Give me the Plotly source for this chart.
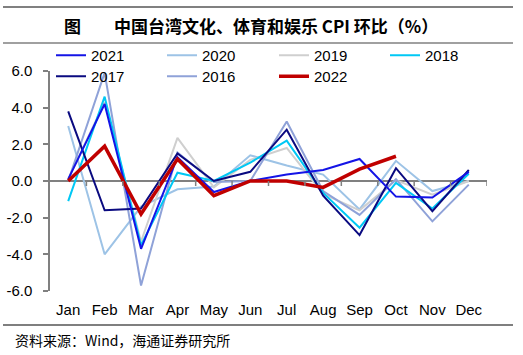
import plotly.graph_objects as go

months = ["Jan", "Feb", "Mar", "Apr", "May", "Jun", "Jul", "Aug", "Sep", "Oct", "Nov", "Dec"]

y2021 = [0.1, 4.2, -3.7, 1.3, -0.6, 0.0, 0.35, 0.6, 1.2, -0.85, -0.9, 0.5]
y2020 = [3.0, -4.0, -1.4, -0.45, -0.3, 1.4, 0.85, 0.35, -1.55, 1.1, -0.55, 0.0]
y2019 = [0.1, 4.3, -3.3, 2.35, -0.35, 1.15, 1.8, -0.7, -1.6, 0.05, -0.75, 0.0]
y2018 = [-1.1, 4.6, -3.5, 0.45, 0.0, 1.0, 2.2, -0.65, -2.55, -0.1, -1.5, 0.4]
y2017 = [3.8, -1.6, -1.5, 1.5, 0.0, 0.5, 2.8, -0.8, -2.95, 0.7, -1.65, 0.6]
y2016 = [0.0, 5.9, -5.7, 1.55, -0.05, 0.0, 3.25, -0.55, -1.85, 0.1, -2.2, -0.2]
y2022 = [0.0, 1.9, -1.8, 1.2, -0.8, 0.0, 0.0, -0.35, 0.65, 1.35]

yticks = [-6, -4, -2, 0, 2, 4, 6]

W, H = 523, 355
L, R, T, B = 50, 36, 71, 64
pw, ph = W - L - R, H - T - B


def px2x(p):
    return (p - L) / pw


def px2y(p):
    return (H - B - p) / ph


# name, values, colour, width, legend id, legend position (x px, top px)
series = [
    ("2020", y2020, "#9DC3E6", 2, "legend2", (162, 39)),
    ("2019", y2019, "#CFCFCF", 2, "legend3", (274, 39)),
    ("2016", y2016, "#8FA2D8", 2, "legend6", (162, 60)),
    ("2018", y2018, "#00C8F5", 2, "legend4", (385, 39)),
    ("2017", y2017, "#0A0A80", 2, "legend5", (51, 60)),
    ("2021", y2021, "#1414E6", 2, "legend", (51, 39)),
    ("2022", y2022, "#C00000", 3.5, "legend7", (274, 60)),
]

fig = go.Figure()
legends = {}
for name, vals, col, w, lg, (lx, ly) in series:
    fig.add_trace(go.Scatter(
        x=months[:len(vals)], y=vals, name=name, mode="lines",
        line=dict(color=col, width=w), legend=lg,
    ))
    legends[lg] = dict(orientation="v", bgcolor="rgba(0,0,0,0)", borderwidth=0,
                       font=dict(family="Liberation Sans, Arial", size=15, color="#000"),
                       xref="container", yref="container",
                       x=lx / W, y=1 - ly / H, xanchor="left", yanchor="top",
                       itemwidth=30)

shapes = []
for k in range(1, 13):
    shapes.append(dict(type="line", xref="x", yref="y", x0=k - 0.5, x1=k - 0.5,
                       ysizemode="pixel", yanchor=0, y0=0, y1=-5,
                       line=dict(color="#808080", width=1.5)))
shapes.append(dict(type="line", xref="paper", yref="paper", x0=px2x(3), x1=px2x(513),
                   y0=px2y(7), y1=px2y(7), line=dict(color="#808080", width=2)))
shapes.append(dict(type="line", xref="paper", yref="paper", x0=px2x(3), x1=px2x(513),
                   y0=px2y(43), y1=px2y(43), line=dict(color="#808080", width=1.5)))
shapes.append(dict(type="line", xref="paper", yref="paper", x0=px2x(3), x1=px2x(513),
                   y0=px2y(325), y1=px2y(325), line=dict(color="#000000", width=1.2)))

cjk = "Noto Sans CJK SC"
annotations = [
    dict(text="<b>图</b>", x=px2x(72), y=px2y(26), xref="paper", yref="paper",
         showarrow=False, xanchor="center", yanchor="middle",
         font=dict(family=cjk, size=17, color="#000")),
    dict(text="<b>中国台湾文化、体育和娱乐 CPI 环比（%）</b>", x=px2x(276), y=px2y(26),
         xref="paper", yref="paper", showarrow=False, xanchor="center", yanchor="middle",
         font=dict(family=cjk, size=17, color="#000")),
    dict(text="资料来源：Wind，海通证券研究所", x=px2x(13), y=px2y(340),
         xref="paper", yref="paper", showarrow=False, xanchor="left", yanchor="middle",
         font=dict(family=cjk, size=14, color="#000")),
]

fig.update_layout(
    width=W, height=H,
    margin=dict(l=L, r=R, t=T, b=B, autoexpand=False),
    paper_bgcolor="white", plot_bgcolor="white",
    shapes=shapes, annotations=annotations,
    showlegend=True,
    **legends,
    xaxis=dict(type="category", categoryorder="array", categoryarray=months,
               range=[-0.5, 11.5], showline=False, showgrid=False, zeroline=False,
               ticks="", ticklabelstandoff=8, automargin=False,
               tickfont=dict(family="Liberation Sans, Arial", size=15, color="#000")),
    yaxis=dict(range=[-6, 6], tickvals=yticks, ticktext=[f"{v:.1f}" for v in yticks],
               showgrid=False, zeroline=True, zerolinecolor="#808080", zerolinewidth=2,
               showline=True, linecolor="#808080", linewidth=1.5,
               ticks="outside", ticklen=5, tickcolor="#808080", tickwidth=1.5,
               ticklabelstandoff=8, automargin=False,
               tickfont=dict(family="Liberation Sans, Arial", size=15, color="#000")),
)

fig.write_html("out.html", config={"displayModeBar": False},
               post_script="document.body.style.margin='0';")
